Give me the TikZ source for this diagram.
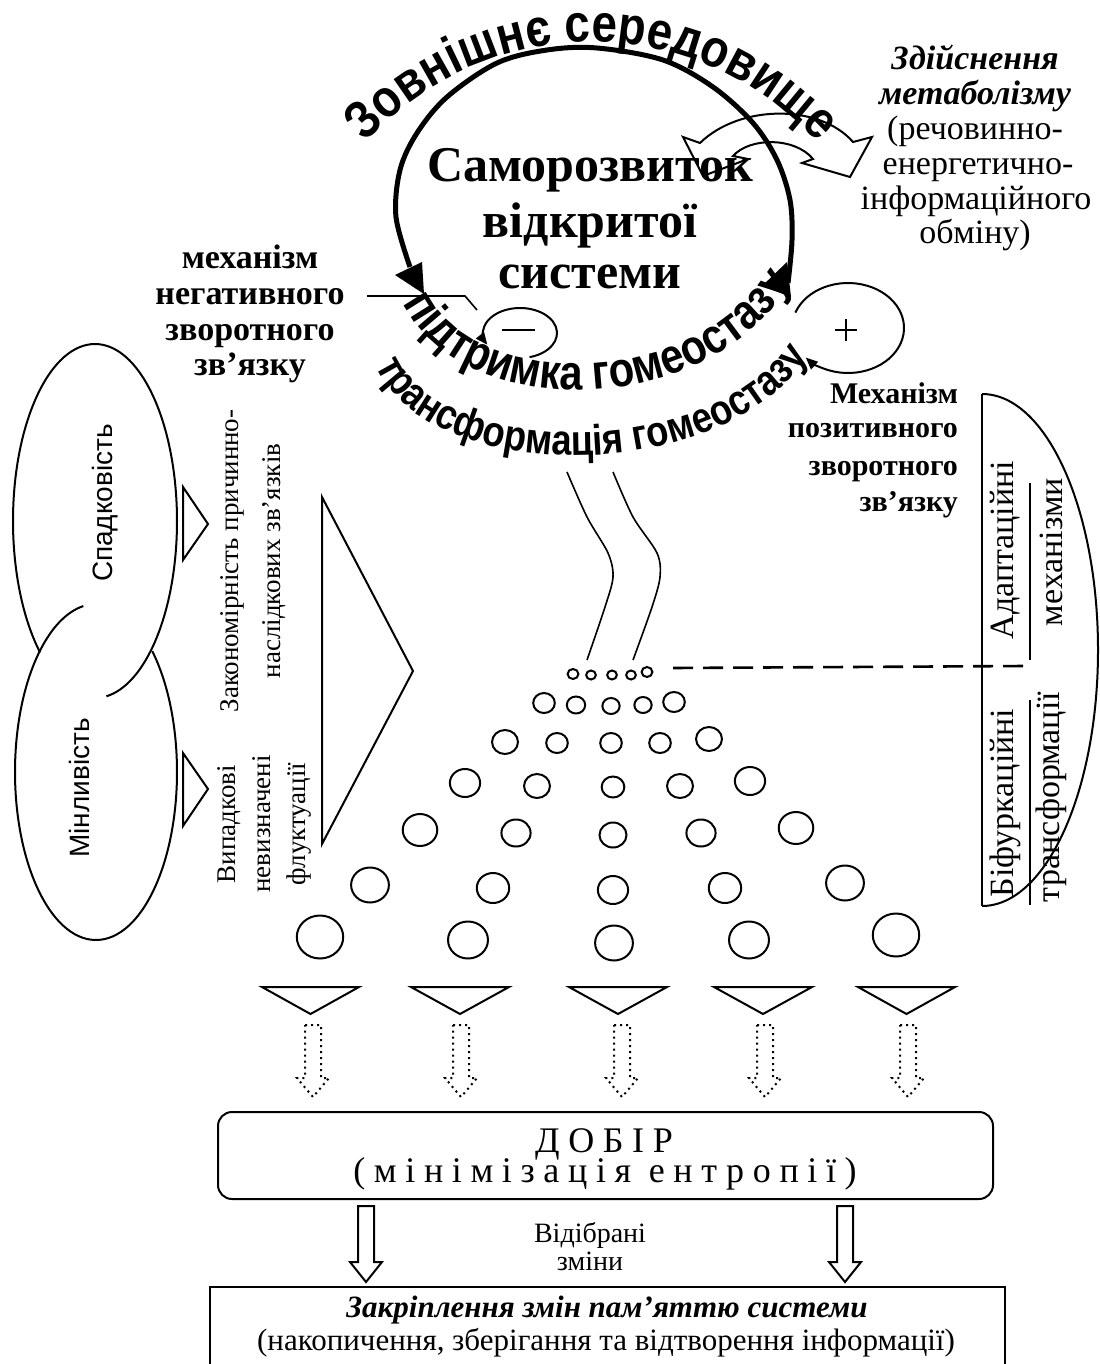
\documentclass[tikz,border=0pt]{standalone}
\usepackage{fontspec}
\setmainfont{Liberation Serif}
\setsansfont{Liberation Sans}
\newfontfamily\waAfam{Liberation Sans}[FakeStretch=0.86]
\newfontfamily\waBfam{Liberation Sans}[FakeStretch=0.85]
\usetikzlibrary{decorations.text,arrows.meta}
\newcommand{\waBig}{\waAfam\bfseries\fontsize{28pt}{28pt}\selectfont}
\newcommand{\waMid}{\waBfam\bfseries\fontsize{24pt}{24pt}\selectfont}
\begin{document}
\begin{tikzpicture}[x=0.5pt,y=-0.5pt,
  thinline/.style={line width=0.8pt},
  shp/.style={line width=1pt},
  headtip/.style={-{Triangle[length=6pt,width=5pt]}},
  bigtitle/.style={anchor=base,font=\bfseries\fontsize{25pt}{26pt}\selectfont},
  rtxt/.style={anchor=base,font=\fontsize{17pt}{17pt}\selectfont},
  rtxtbi/.style={anchor=base,font=\bfseries\itshape\fontsize{17pt}{17pt}\selectfont},
  fbl/.style={anchor=base,font=\bfseries\fontsize{17pt}{17pt}\selectfont},
  fbr/.style={anchor=base east,font=\bfseries\fontsize{15pt}{15pt}\selectfont},
  vtext/.style={rotate=90,align=center},
  ellt/.style={rotate=90,font=\sffamily\fontsize{14pt}{14pt}\selectfont},
  dotarrow/.style={dotted,line width=1pt}]
\fill[white] (0,0) rectangle (1099,1364);
\path[use as bounding box] (0,0) rectangle (1099,1364);

% ---------- metabolism double arrow (band) ----------
\draw[shp] (733,156) .. controls (750,137) and (795,137) .. (813,159)
  -- (802,163) -- (850,177) -- (872,137) -- (853,142)
  .. controls (820,104) and (740,104) .. (700,143)
  -- (683,137) -- (703,176) -- (748,159) -- cycle;

% ---------- big circular arrow ----------
\draw[line width=2.5pt] plot[smooth,tension=0.55] coordinates {(410,267) (396,217) (400,170) (417,133) (447,97) (497,63) (547,50) (597,48) (663,60) (713,87) (753,123) (777,160) (790,200) (792,240) (788,283)};
\fill (395,275) -- (422,262) -- (424,294) -- cycle;
\fill (762,286) -- (787,262) -- (791,297) -- cycle;

% ---------- curved texts ----------
\path[decorate,decoration={text effects along path,text={Зовнішнє середовище},
   text effects/.cd, scale text to path, characters={text along path,font=\waBig}}]
  ([shift={(-138:304)}]592,346) arc[start angle=-138,end angle=-42,radius=304];
\path[decorate,decoration={text effects along path,text={підтримка гомеостазу},
   text effects/.cd, scale text to path, characters={text along path,font=\waMid}}]
  (403,303) .. controls (460,420) and (700,425) .. (792,283);
\path[decorate,decoration={text effects along path,text={трансформація гомеостазу},
   text effects/.cd, scale text to path, characters={text along path,font=\waMid}}]
  (376,366) .. controls (430,487) and (722,487) .. (808,356);

% ---------- central title ----------
\node[bigtitle] (t1) at (590,182) {Саморозвиток};
\node[bigtitle] (t2) at (590,237) {відкритої};
\node[bigtitle] (t3) at (590,288) {системи};

% ---------- metabolism text ----------
\node[rtxtbi] (m1) at (975,70) {Здійснення};
\node[rtxtbi] (m2) at (975,105) {метаболізму};
\node[rtxt] (m3) at (975,140) {(речовинно-};
\node[rtxt] (m4) at (978,175) {енергетично-};
\node[rtxt] (m5) at (976,210) {інформаційного};
\node[rtxt] (m6) at (975,243) {обміну)};

% ---------- negative feedback ----------
\node[fbl] (n1) at (250,269) {механізм};
\node[fbl] (n2) at (250,304) {негативного};
\node[fbl] (n3) at (250,340) {зворотного};
\node[fbl] (n4) at (250,375) {зв’язку};
\coordinate (lead1) at (367,296);
\coordinate (lead2) at (465,296);
\coordinate (lead3) at (477,310);
\draw[thinline] (lead1) -- (lead2) -- (lead3);
\draw[shp,headtip] ([shift={(75:37 and 25)}]520,333) arc[start angle=75,end angle=-208,x radius=37,y radius=25];
\draw[thinline] (502,330) -- (535,330);

% ---------- positive feedback ----------
\draw[shp,headtip] ([shift={(-160:56 and 45)}]848,328) arc[start angle=-160,end angle=139,x radius=56,y radius=45];
\draw[thinline] (835,330) -- (857,330) (846,319) -- (846,341);
\node[fbr] (p1) at (965,403) {Механізм};
\node[fbr] (p2) at (965,437) {позитивного};
\node[fbr] (p3) at (965,475) {зворотного};
\node[fbr] (p4) at (965,511) {зв’язку};

% ---------- left ellipses ----------
\draw[shp] ([shift={(132:82 and 177)}]95,521) arc[start angle=132,end angle=442,x radius=82,y radius=177];
\draw[shp] ([shift={(314:81 and 168)}]96,772) arc[start angle=314,end angle=621,x radius=81,y radius=168];
\node[ellt] (sp) at (105,503) {Спадковість};
\node[ellt] (mi) at (79,788) {Мінливість};
\draw[shp] (183,487) -- (208,524) -- (183,560) -- cycle;
\draw[shp] (183,753) -- (208,789) -- (183,826) -- cycle;
\node[vtext,font=\fontsize{13.5pt}{21pt}\selectfont] (zak) at (253,561) {Закономірність причинно-\\наслідкових зв’язків};
\node[vtext,font=\fontsize{13.5pt}{17.5pt}\selectfont] (vyp) at (264,824) {Випадкові\\невизначені\\флуктуації};
\draw[shp] (322,497) -- (413,671) -- (322,844) -- cycle;

% ---------- wavy lines ----------
\draw[thinline] plot[smooth] coordinates {(567,472) (587,517) (608,553) (613,577) (605,607) (587,660)};
\draw[thinline] plot[smooth] coordinates {(613,472) (633,517) (657,553) (660,577) (652,607) (633,660)};

% ---------- dashed line and right bracket ----------
\draw[line width=1.3pt,dash pattern=on 10pt off 5pt] (673,668) -- (1025,666);
\draw[shp] (982,394) -- (982,906);
\draw[shp] (982,394) arc[start angle=-90,end angle=90,x radius=116,y radius=256];
\draw[thinline] (1030,483) -- (1030,660);
\draw[thinline] (1030,700) -- (1030,905);
\node[vtext,font=\fontsize{17pt}{17pt}\selectfont] (ad1) at (1005,550) {Адаптаційні};
\node[vtext,font=\fontsize{17pt}{17pt}\selectfont] (ad2) at (1051,552) {механізми};
\node[vtext,font=\fontsize{17pt}{17pt}\selectfont] (bf1) at (1005,803) {Біфуркаційні};
\node[vtext,font=\fontsize{17pt}{17pt}\selectfont] (bf2) at (1051,797) {трансформації};

% ---------- circles ----------
\foreach \cx/\cy/\r in {
  573/674/5, 591/675/4.5, 612/675/4.5, 631/675/4.5, 647/672/5,
  544/703/10, 576/705/8.5, 611/706/8, 643/705/8, 674/702/10,
  505/742/12, 557/743/10, 611/743/10, 660/743/10, 709/739/12,
  465/783/14, 537/786/12, 613/787/10.5, 680/786/12, 750/781/14,
  420/830/16, 516/833/13.5, 613/835/12.5, 701/833/13.5, 796/828/16,
  370/885/17.5, 493/888/15, 613/890/14, 725/888/15, 845/883/17.5,
  320/937/21.5, 468/940/18.5, 614/943/17.5, 749/940/18.5, 896/935/21.5}
  \draw[shp] (\cx,\cy) ellipse[x radius={1.08*\r}, y radius=\r];

% ---------- down triangles ----------
\foreach \a/\b in {262/359, 411/509, 569/667, 714/812, 858/955}
  \draw[shp] (\a,987) -- (\b,987) -- ({(\a+\b)/2},1014) -- cycle;

% ---------- dotted arrows ----------
\foreach \c in {313,461,622,765,908}
  \draw[dotarrow] ({\c-8},1025) -- ({\c+8},1025) -- ({\c+8},1078) -- ({\c+16},1078)
     -- (\c,1097) -- ({\c-16},1078) -- ({\c-8},1078) -- cycle;

% ---------- selection box ----------
\node[draw,shp,rounded corners=7pt,minimum width=387.5pt,minimum height=43.5pt,inner sep=0pt] (dobir) at (605.5,1155.5) {};
\node[anchor=base,font=\fontsize{18pt}{18pt}\selectfont\addfontfeature{LetterSpace=24}] (d1) at (604,1152) {ДОБІР};
\node[anchor=base,font=\fontsize{18pt}{18pt}\selectfont\addfontfeature{LetterSpace=24}] (d2) at (605,1182) {(мінімізація ентропії)};

% ---------- hollow arrows ----------
\draw[shp] (358,1206) -- (374,1206) -- (374,1262) -- (382,1262) -- (366,1282) -- (350,1262) -- (358,1262) -- cycle;
\draw[shp] (837,1206) -- (853,1206) -- (853,1262) -- (861,1262) -- (845,1282) -- (829,1262) -- (837,1262) -- cycle;
\node[anchor=base,font=\fontsize{14pt}{14pt}\selectfont] (sel1) at (590,1242) {Відібрані};
\node[anchor=base,font=\fontsize{14pt}{14pt}\selectfont] (sel2) at (590,1270) {зміни};

% ---------- memory box ----------
\draw[shp] (210,1390) -- (210,1287) -- (1005,1287) -- (1005,1390);
\node[anchor=base,font=\bfseries\itshape\fontsize{15.5pt}{15.5pt}\selectfont] (mem1) at (607,1317) {Закріплення змін пам’яттю системи};
\node[anchor=base,font=\fontsize{15.5pt}{15.5pt}\selectfont] (mem2) at (606,1350) {(накопичення, зберігання та відтворення інформації)};
\end{tikzpicture}
\end{document}
